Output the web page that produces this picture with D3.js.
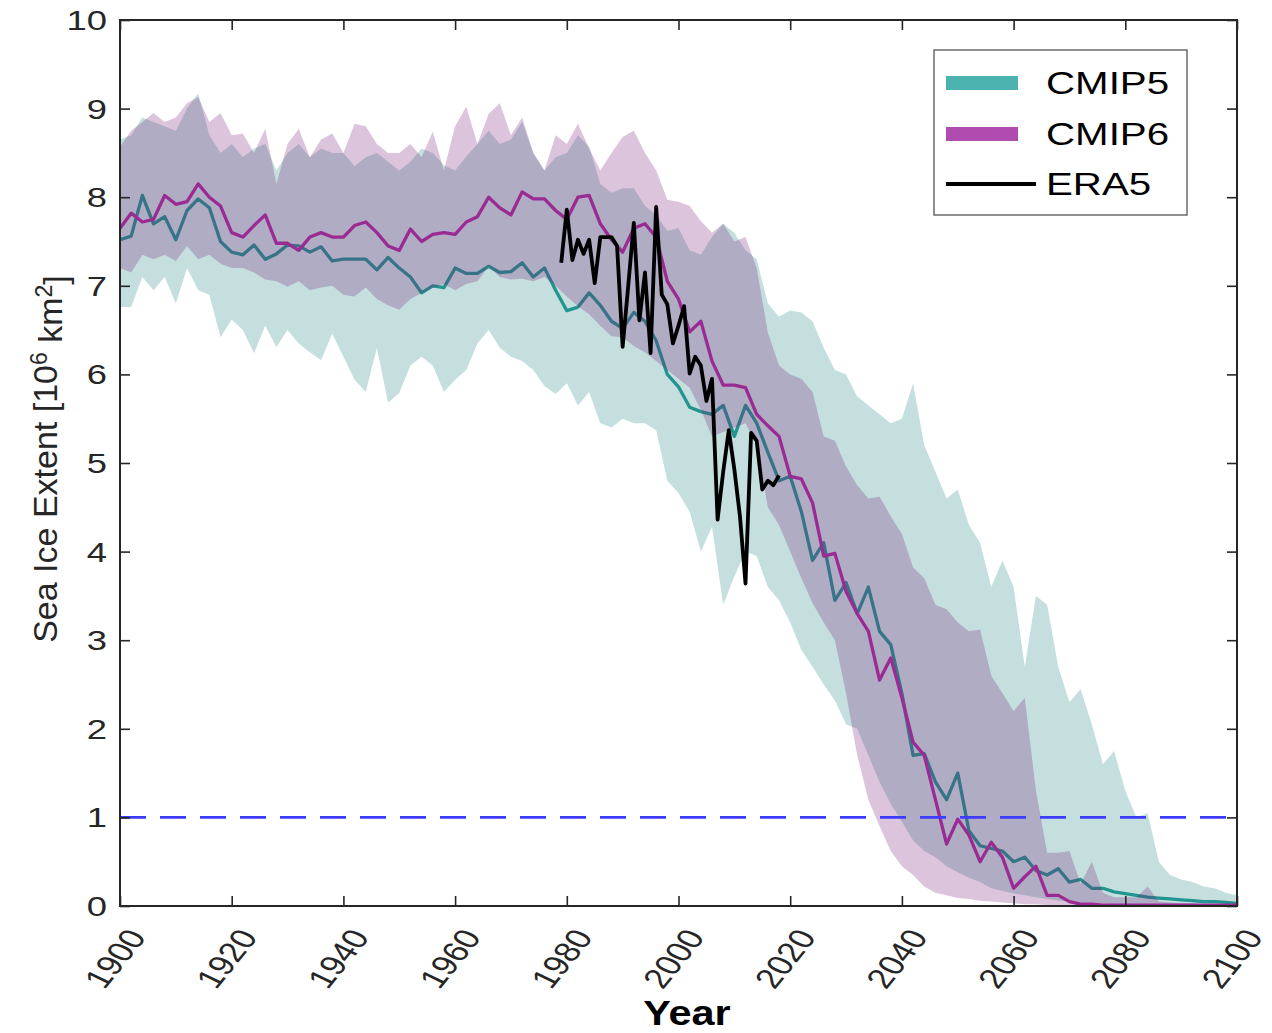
<!DOCTYPE html>
<html><head><meta charset="utf-8">
<script src="https://cdn.jsdelivr.net/npm/d3@7/dist/d3.min.js"></script>
<style>
body{margin:0;background:#fff}
svg{display:block}
text{font-family:"Liberation Sans",Arial,Helvetica,sans-serif;fill:#262626}
</style>
</head><body>
<svg id="chart" width="1272" height="1033"></svg>
<script>
// ---------------- data ----------------
const years = d3.range(1900, 2101, 2);   // model series, every 2nd year
const xTicks = [1900,1920,1940,1960,1980,2000,2020,2040,2060,2080,2100];
const yTicks = [0,1,2,3,4,5,6,7,8,9,10];
const seriesNames = ["CMIP5","CMIP6","ERA5"];

const cmip5Mean = [
7.52,7.56,8.02,7.70,7.78,7.52,7.85,7.98,7.88,7.50,
7.38,7.35,7.46,7.30,7.36,7.46,7.45,7.38,7.44,7.28,
7.30,7.30,7.30,7.18,7.32,7.20,7.10,6.92,7.00,6.98,
7.20,7.14,7.14,7.22,7.15,7.16,7.26,7.10,7.20,6.95,
6.72,6.76,6.92,6.78,6.60,6.52,6.70,6.60,6.38,6.00,
5.86,5.63,5.58,5.55,5.65,5.30,5.65,5.45,5.12,4.80,
4.85,4.45,3.90,4.10,3.45,3.65,3.30,3.60,3.10,2.95,
2.40,1.70,1.72,1.40,1.20,1.50,0.85,0.68,0.65,0.62,
0.50,0.55,0.40,0.35,0.42,0.27,0.30,0.20,0.20,0.16,
0.14,0.12,0.10,0.09,0.08,0.07,0.06,0.05,0.05,0.04,
0.03];
const cmip5High = [
8.65,8.70,8.90,8.85,8.80,8.75,9.00,9.17,8.70,8.50,
8.60,8.45,8.55,8.60,8.30,8.50,8.60,8.45,8.55,8.50,
8.50,8.35,8.45,8.50,8.40,8.30,8.40,8.55,8.50,8.36,
8.30,8.46,8.60,8.75,8.60,8.65,8.85,8.50,8.30,8.45,
8.50,8.70,8.57,8.15,8.05,8.10,8.10,7.90,7.80,7.62,
7.65,7.40,7.35,7.55,7.70,7.60,7.40,7.30,6.80,6.65,
6.72,6.70,6.60,6.30,6.05,6.00,5.75,5.65,5.55,5.45,
5.50,5.90,5.20,4.90,4.60,4.70,4.30,4.10,3.60,3.90,
3.60,2.70,3.50,3.40,2.70,2.30,2.45,2.05,1.60,1.75,
1.30,1.00,1.05,0.50,0.35,0.30,0.27,0.22,0.20,0.15,
0.12];
const cmip5Low = [
6.76,6.76,7.10,6.95,7.10,6.80,7.20,6.95,6.90,6.42,
6.62,6.50,6.24,6.55,6.31,6.50,6.35,6.25,6.16,6.46,
6.20,5.94,5.80,6.30,5.68,5.79,6.10,6.20,6.10,5.80,
5.94,6.05,6.35,6.50,6.30,6.20,6.15,6.05,5.87,5.78,
5.90,5.65,5.80,5.45,5.40,5.50,5.45,5.45,5.37,4.80,
4.66,4.45,4.00,4.28,3.40,3.72,4.00,3.95,3.60,3.45,
3.20,2.89,2.70,2.50,2.32,2.05,2.00,1.70,1.40,1.15,
0.95,0.74,0.62,0.55,0.45,0.38,0.32,0.27,0.20,0.17,
0.14,0.12,0.10,0.08,0.06,0.05,0.04,0.03,0.03,0.02,
0.02,0.02,0.01,0.01,0.01,0.01,0.01,0.01,0.01,0.01,
0.01];

const cmip6Mean = [
7.65,7.82,7.72,7.75,8.02,7.92,7.95,8.15,8.00,7.90,
7.60,7.55,7.68,7.80,7.48,7.48,7.40,7.55,7.60,7.55,
7.55,7.68,7.72,7.60,7.45,7.40,7.64,7.50,7.58,7.60,
7.58,7.72,7.78,8.00,7.88,7.80,8.06,7.98,7.98,7.85,
7.75,8.00,8.02,7.70,7.52,7.38,7.65,7.70,7.55,7.05,
6.85,6.48,6.60,6.15,5.88,5.88,5.85,5.55,5.42,5.30,
4.85,4.82,4.55,3.95,3.98,3.55,3.30,3.10,2.55,2.80,
2.35,1.85,1.70,1.20,0.70,0.98,0.80,0.50,0.72,0.55,
0.20,0.33,0.45,0.12,0.12,0.05,0.02,0.02,0.01,0.01,
0.01,0.01,0.01,0.01,0.01,0.01,0.01,0.01,0.01,0.01,
0.01];
const cmip6High = [
8.57,8.75,8.85,8.95,8.85,8.90,9.06,9.13,8.85,8.95,
8.70,8.72,8.50,8.77,8.15,8.60,8.77,8.45,8.65,8.72,
8.50,8.83,8.80,8.60,8.50,8.50,8.60,8.45,8.74,8.30,
8.80,9.02,8.60,8.94,9.06,8.70,8.90,8.50,8.30,8.70,
8.60,8.83,8.55,8.30,8.50,8.68,8.75,8.50,8.30,7.97,
7.95,7.90,7.73,7.60,7.70,7.50,7.55,7.20,6.47,6.10,
6.00,5.95,5.80,5.30,5.25,4.96,4.75,4.60,4.62,4.40,
4.20,3.82,3.70,3.40,3.35,3.20,3.10,3.12,2.60,2.40,
2.20,2.35,1.30,0.60,0.60,0.62,0.25,0.50,0.15,0.10,
0.10,0.10,0.22,0.05,0.04,0.03,0.03,0.02,0.02,0.02,
0.02];
const cmip6Low = [
7.20,7.15,7.35,7.30,7.35,7.28,7.45,7.30,7.35,7.25,
7.20,7.20,7.15,7.07,7.05,6.99,7.05,6.95,6.98,7.00,
6.90,6.88,6.98,6.85,6.78,6.73,6.85,6.92,6.98,7.02,
6.95,7.02,7.05,7.22,7.10,7.07,7.08,7.05,7.10,7.00,
6.88,6.77,6.68,6.55,6.43,6.42,6.32,6.25,6.15,6.05,
5.95,5.85,5.60,5.30,5.35,5.40,5.45,5.20,4.50,4.30,
4.00,3.70,3.42,3.20,3.00,2.40,1.70,1.20,0.90,0.62,
0.45,0.35,0.22,0.15,0.12,0.09,0.08,0.06,0.05,0.04,
0.03,0.02,0.02,0.01,0.00,0.00,0.00,0.00,0.00,0.00,
0.00,0.00,0.00,0.00,0.00,0.00,0.00,0.00,0.00,0.00,
0.00];

const era5Years = d3.range(1979, 2019);
const era5 = [
7.26,7.86,7.29,7.52,7.36,7.52,7.03,7.55,7.55,7.55,
7.45,6.31,7.00,7.71,6.61,7.15,6.24,7.89,6.90,6.79,
6.35,6.55,6.77,6.01,6.20,6.10,5.70,5.95,4.36,4.90,
5.37,4.93,4.40,3.64,5.34,5.25,4.70,4.80,4.75,4.86];

const thresholdValue = 1;

// ---------------- drawing ----------------
const SX = 1.3; // horizontal text stretch seen in the reference
const svg = d3.select("#chart");
const L = 120, R = 1237, T = 20, B = 906;
const x = d3.scaleLinear().domain([1900, 2100]).range([L, R]);
const y = d3.scaleLinear().domain([0, 10]).range([B, T]);

const colors = {
  cmip5Band: "rgb(24,128,128)", cmip6Band: "rgb(116,20,116)",
  cmip5Line: "#23948f", cmip6Line: "#9a2b93",
  cmip5Leg: "#4cb3b0", cmip6Leg: "#b04cb0"
};

svg.append("defs").append("clipPath").attr("id","clip")
  .append("rect").attr("x",L).attr("y",T).attr("width",R-L).attr("height",B-T);

const plot = svg.append("g").attr("clip-path","url(#clip)");

const mk = (lo, hi, mean) => years.map((yr,i)=>({year:yr, lo:lo[i], hi:hi[i], mean:mean[i]}));
const d5 = mk(cmip5Low, cmip5High, cmip5Mean);
const d6 = mk(cmip6Low, cmip6High, cmip6Mean);

const area = d3.area().x(d=>x(d.year)).y0(d=>y(d.lo)).y1(d=>y(d.hi));
const meanLine = d3.line().x(d=>x(d.year)).y(d=>y(d.mean));

plot.append("path").datum(d5).attr("d",area)
  .attr("fill",colors.cmip5Band).attr("fill-opacity",0.25);
plot.append("path").datum(d5).attr("d",meanLine)
  .attr("fill","none").attr("stroke",colors.cmip5Line).attr("stroke-width",3.3)
  .attr("stroke-linejoin","round");
plot.append("path").datum(d6).attr("d",area)
  .attr("fill",colors.cmip6Band).attr("fill-opacity",0.25);
plot.append("path").datum(d6).attr("d",meanLine)
  .attr("fill","none").attr("stroke",colors.cmip6Line).attr("stroke-width",3.3)
  .attr("stroke-linejoin","round");

plot.append("path").datum(era5Years.map((yr,i)=>({year:yr, v:era5[i]})))
  .attr("d", d3.line().x(d=>x(d.year)).y(d=>y(d.v)))
  .attr("fill","none").attr("stroke","#000").attr("stroke-width",3.8)
  .attr("stroke-linejoin","round");

plot.append("line")
  .attr("x1",x(1900)).attr("x2",x(2100))
  .attr("y1",y(thresholdValue)).attr("y2",y(thresholdValue))
  .attr("stroke","#3c3cff").attr("stroke-width",2.6).attr("stroke-dasharray","26,14");

// axes (box, inward ticks)
const axCol = "#262626";
function styleAxis(g){
  g.select(".domain").remove();
  g.selectAll(".tick line").attr("stroke",axCol).attr("stroke-width",1.6);
  g.selectAll(".tick text").remove();
}
svg.append("g").attr("transform",`translate(0,${B})`)
  .call(d3.axisBottom(x).tickValues(xTicks).tickSizeInner(-10).tickSizeOuter(0)).call(styleAxis);
svg.append("g").attr("transform",`translate(0,${T})`)
  .call(d3.axisTop(x).tickValues(xTicks).tickSizeInner(-10).tickSizeOuter(0)).call(styleAxis);
svg.append("g").attr("transform",`translate(${L},0)`)
  .call(d3.axisLeft(y).tickValues(yTicks).tickSizeInner(-10).tickSizeOuter(0)).call(styleAxis);
svg.append("g").attr("transform",`translate(${R},0)`)
  .call(d3.axisRight(y).tickValues(yTicks).tickSizeInner(-10).tickSizeOuter(0)).call(styleAxis);
svg.append("rect").attr("x",L).attr("y",T).attr("width",R-L).attr("height",B-T)
  .attr("fill","none").attr("stroke",axCol).attr("stroke-width",2);

// tick labels
svg.append("g").selectAll("text").data(yTicks).join("text")
  .attr("transform", d=>`translate(107,${y(d)}) scale(${SX},1)`)
  .attr("text-anchor","end").attr("dy","0.36em")
  .style("font-size","28px").text(d=>d);

svg.append("g").selectAll("text").data(xTicks).join("text")
  .attr("transform", d=>`translate(${x(d)+16},${B+26}) scale(${SX},1) rotate(-58)`)
  .attr("text-anchor","end").attr("dy","0.36em")
  .style("font-size","28px").text(d=>d);

// axis titles
svg.append("text")
  .attr("transform",`translate(687,1025) scale(1.15,1)`)
  .attr("text-anchor","middle").style("font-size","36px").style("font-weight","bold")
  .style("fill","#000").text("Year");

const yl = svg.append("text")
  .attr("transform",`translate(57,459) rotate(-90)`)
  .attr("text-anchor","middle").style("font-size","34px");
yl.append("tspan").text("Sea Ice Extent [10");
yl.append("tspan").attr("dy","-0.45em").style("font-size","23px").text("6");
yl.append("tspan").attr("dy","0.45em").text(" km");
yl.append("tspan").attr("dy","-0.45em").style("font-size","23px").text("2");
yl.append("tspan").attr("dy","0.45em").text("]");

// legend
const lg = svg.append("g");
lg.append("rect").attr("x",934).attr("y",50).attr("width",253).attr("height",165)
  .attr("fill","#fff").attr("stroke","#555").attr("stroke-width",1.3);
const legY = [83, 134, 184];
lg.append("rect").attr("x",946).attr("y",legY[0]-7).attr("width",72).attr("height",14)
  .attr("fill",colors.cmip5Leg);
lg.append("rect").attr("x",946).attr("y",legY[1]-7).attr("width",72).attr("height",14)
  .attr("fill",colors.cmip6Leg);
lg.append("line").attr("x1",946).attr("x2",1036).attr("y1",legY[2]).attr("y2",legY[2])
  .attr("stroke","#000").attr("stroke-width",4);
lg.selectAll("text.leg").data(seriesNames).join("text").attr("class","leg")
  .attr("transform",(d,i)=>`translate(1046,${legY[i]}) scale(${SX},1)`)
  .attr("dy","0.36em").style("font-size","31px").style("fill","#000").text(d=>d);
</script>
</body></html>
